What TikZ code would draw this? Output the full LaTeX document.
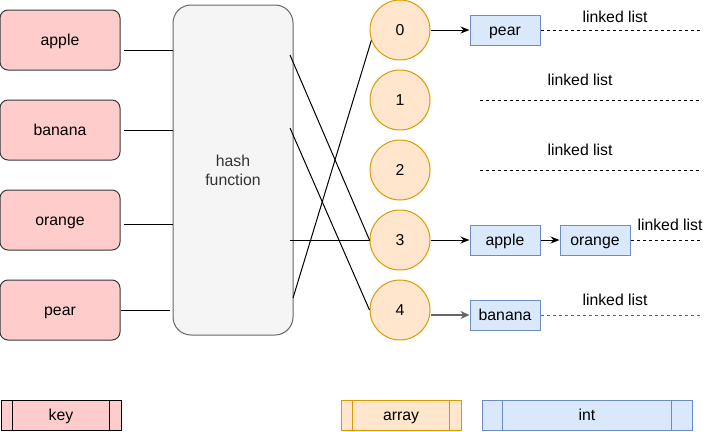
\documentclass[tikz,border=0pt]{standalone}
\usepackage{fontspec}
\setmainfont{Liberation Sans}
\usetikzlibrary{arrows.meta,calc}
\definecolor{keyfill}{HTML}{FFCCCC}
\definecolor{keydraw}{HTML}{36393D}
\definecolor{hashfill}{HTML}{F5F5F5}
\definecolor{hashdraw}{HTML}{666666}
\definecolor{arrfill}{HTML}{FFE6CC}
\definecolor{arrdraw}{HTML}{D79B00}
\definecolor{intfill}{HTML}{DAE8FC}
\definecolor{intdraw}{HTML}{6C8EBF}
\definecolor{hashtext}{HTML}{333333}
\tikzset{
  every node/.style={font=\fontsize{15.8}{19}\selectfont, inner sep=0pt},
  txt/.style={text height=13.5pt, text depth=3pt},
  keybox/.style={txt, draw=keydraw, fill=keyfill, rounded corners=8pt, minimum width=120pt, minimum height=60pt, line width=1pt},
  hashbox/.style={draw=hashdraw, fill=hashfill, rounded corners=18pt, minimum width=120pt, minimum height=330pt, line width=1pt, text=hashtext, align=center},
  slot/.style={txt, circle, draw=arrdraw, fill=arrfill, minimum size=60pt, line width=1pt},
  intbox/.style={txt, draw=intdraw, fill=intfill, minimum width=70pt, minimum height=30pt, line width=1pt},
  legbox/.style={txt, line width=1pt, minimum height=30pt},
  conn/.style={line width=1pt, black},
  arr/.style={line width=1pt, -{Stealth[length=9pt,width=7pt]}},
  dashline/.style={dashed, dash pattern=on 3pt off 3pt, line width=1pt},
  lbl/.style={txt, anchor=center},
}
\begin{document}
\begin{tikzpicture}[x=1pt,y=-1pt]
\useasboundingbox (0,0) rectangle (711,431);
% keys
\node[keybox] (apple) at (60,40) {apple};
\node[keybox] (banana) at (60,130) {banana};
\node[keybox] (orange) at (60,220) {orange};
\node[keybox] (pear) at (60,310) {pear};
% hash
\node[hashbox] (hash) at (233,170) {hash\\function};
% slots
\node[slot] (s0) at (400,30) {0};
\node[slot] (s1) at (400,100) {1};
\node[slot] (s2) at (400,170) {2};
\node[slot] (s3) at (400,240) {3};
\node[slot] (s4) at (400,310) {4};
% key to hash lines
\draw[conn] ([xshift=3pt,yshift=-10pt]apple.east) -- ([yshift=-10pt]apple.east -| hash.west);
\draw[conn] ([xshift=3pt]banana.east) -- (banana.east -| hash.west);
\draw[conn] ([xshift=3pt,yshift=-4pt]orange.east) -- ([yshift=-4pt]orange.east -| hash.west);
\draw[conn] (pear.east) -- ([xshift=-3pt]pear.east -| hash.west);
% crossing lines
\coordinate (ha) at (290,55);
\coordinate (hb) at (290,128);
\coordinate (ho) at (290,240);
\coordinate (hp) at (293,298);
\draw[conn] (ha) -- (s3.west);
\draw[conn] (hb) -- (s4.west);
\draw[conn] (ho) -- (s3.west);
\draw[conn] (hp) -- (s0.200);
% int boxes
\node[intbox] (ipear) at (505,30) {pear};
\node[intbox] (iapple) at (505,240) {apple};
\node[intbox] (iorange) at (595,240) {orange};
\node[intbox] (ibanana) at (505,315) {banana};
\draw[arr] (s0.east) -- (ipear.west);
\draw[arr] (s3.east) -- (iapple.west);
\draw[arr] (iapple.east) -- (iorange.west);
\draw[arr, line width=1.6pt, draw=hashdraw, fill=hashdraw, -{Stealth[length=9pt,width=8pt]}] (s4.east |- ibanana.west) -- (ibanana.west);
% linked lists
\coordinate (e0) at (700,30);
\coordinate (b1) at (480,100);
\coordinate (e1) at (700,100);
\coordinate (b2) at (480,170);
\coordinate (e2) at (700,170);
\coordinate (e3) at (700,240);
\coordinate (e4) at (700,315);
\draw[dashline] (ipear.east) -- (e0);
\draw[dashline] (b1) -- (e1);
\draw[dashline] (b2) -- (e2);
\draw[dashline] (iorange.east) -- (e3);
\draw[dashline, draw=hashdraw] (ibanana.east) -- (e4);
\node[lbl] (l0) at (615,17) {linked list};
\node[lbl] (l1) at (580,80) {linked list};
\node[lbl] (l2) at (580,150) {linked list};
\node[lbl] (l3) at (670,225) {linked list};
\node[lbl] (l4) at (615,300) {linked list};
% legend
\node[legbox, draw=black, fill=keyfill, minimum width=120pt] (lkey) at (61,415) {key};
\draw[line width=1pt] ([xshift=12pt]lkey.north west) -- ([xshift=12pt]lkey.south west);
\draw[line width=1pt] ([xshift=-12pt]lkey.north east) -- ([xshift=-12pt]lkey.south east);
\node[legbox, draw=arrdraw, fill=arrfill, minimum width=120pt] (larr) at (401,415) {array};
\draw[arrdraw, line width=1pt] ([xshift=12pt]larr.north west) -- ([xshift=12pt]larr.south west);
\draw[arrdraw, line width=1pt] ([xshift=-12pt]larr.north east) -- ([xshift=-12pt]larr.south east);
\node[legbox, draw=intdraw, fill=intfill, minimum width=210pt] (lint) at (587,415) {int};
\draw[intdraw, line width=1pt] ([xshift=21pt]lint.north west) -- ([xshift=21pt]lint.south west);
\draw[intdraw, line width=1pt] ([xshift=-21pt]lint.north east) -- ([xshift=-21pt]lint.south east);
\end{tikzpicture}
\end{document}
